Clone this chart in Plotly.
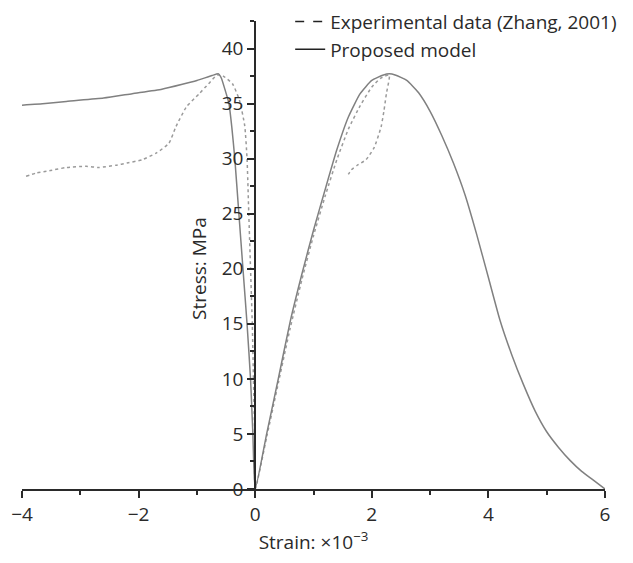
import plotly.graph_objects as go

# Proposed model: lateral branch (negative strain) then axial branch
model_strain = [-4.0, -3.6, -3.24, -2.6, -2.11, -1.6, -1.25, -1.0, -0.74, -0.63,
                -0.58, -0.52, -0.45, -0.4, -0.35, -0.28, -0.21, -0.14, -0.08, -0.04, 0.0,
                0.2, 0.4, 0.6, 0.8, 1.0, 1.2, 1.4, 1.6, 1.8, 2.0, 2.2, 2.3, 2.4,
                2.6, 2.8, 3.0, 3.2, 3.4, 3.6, 3.8, 4.0, 4.2, 4.4, 4.6, 4.8, 5.0,
                5.2, 5.4, 5.6, 5.8, 6.0]
model_stress = [34.85, 35.0, 35.2, 35.5, 35.9, 36.3, 36.75, 37.1, 37.55, 37.7,
                37.3, 36.3, 35.0, 32.8, 30.0, 25.0, 20.0, 15.0, 10.0, 5.0, 0.0,
                5.1, 10.1, 15.2, 19.5, 23.5, 27.2, 30.8, 33.8, 35.9, 37.1, 37.6, 37.7, 37.6,
                37.1, 36.0, 34.3, 32.1, 29.6, 26.7, 23.1, 19.2, 15.3, 12.2, 9.5, 7.1, 5.2,
                3.8, 2.6, 1.6, 0.8, 0.0]

# Experimental data (Zhang, 2001)
exp_strain = [-3.93, -3.75, -3.53, -3.24, -2.9, -2.68, -2.39, -2.2, -1.94, -1.7,
              -1.48, -1.36, -1.18, -0.96, -0.8, -0.65, -0.55, -0.39, -0.27, -0.18,
              -0.14, -0.11, -0.08, -0.05, -0.03, -0.01, 0.0,
              0.2, 0.4, 0.6, 0.8, 1.0, 1.2, 1.4, 1.6, 1.8, 2.0, 2.15, 2.3,
              2.25, 2.21, 2.16, 2.04, 1.9, 1.75, 1.65, 1.6, 1.56]
exp_stress = [28.4, 28.7, 28.9, 29.2, 29.3, 29.2, 29.4, 29.6, 29.9, 30.5,
              31.4, 32.9, 34.7, 35.9, 36.8, 37.6, 37.5, 36.8, 35.3, 33.0,
              30.0, 25.0, 20.0, 15.0, 10.0, 5.0, 0.0,
              4.8, 9.7, 14.6, 19.0, 23.0, 26.6, 29.9, 32.7, 34.8, 36.5, 37.3, 37.6,
              35.9, 34.4, 32.9, 31.0, 29.9, 29.4, 29.0, 28.6, 28.4]

x_ticks = [-4, -2, 0, 2, 4, 6]
y_ticks = [0, 5, 10, 15, 20, 25, 30, 35, 40]

FONT = "Open Sans"
AX = "#2a2a2a"
FS = 19

fig = go.Figure()
fig.add_trace(go.Scatter(x=exp_strain, y=exp_stress, mode="lines",
                         line=dict(color="#9a9a9a", width=1.5, dash="dot",
                                   shape="spline", smoothing=0.5),
                         showlegend=False, hoverinfo="skip"))
fig.add_trace(go.Scatter(x=model_strain, y=model_stress, mode="lines",
                         line=dict(color="#808080", width=1.5,
                                   shape="spline", smoothing=0.5),
                         showlegend=False, hoverinfo="skip"))
# legend entries
fig.add_trace(go.Scatter(x=[None], y=[None], mode="lines",
                         name="Experimental data (Zhang, 2001)",
                         line=dict(color="#222222", width=1.5, dash="dash")))
fig.add_trace(go.Scatter(x=[None], y=[None], mode="lines",
                         name="Proposed model",
                         line=dict(color="#222222", width=1.5)))

fig.update_layout(
    width=633, height=563,
    margin=dict(l=14, r=36, t=13, b=82, autoexpand=False),
    paper_bgcolor="white", plot_bgcolor="white",
    font=dict(family=FONT, size=FS, color=AX),
    showlegend=True,
    legend=dict(x=0.46, xanchor="left", y=1.039, yanchor="top",
                bgcolor="rgba(0,0,0,0)", font=dict(size=FS, family=FONT, color=AX),
                tracegroupgap=0, itemwidth=30),
    xaxis=dict(range=[-4, 6], tickvals=x_ticks, showgrid=False, zeroline=False,
               showline=True, linecolor=AX, linewidth=2, automargin=False,
               ticks="outside", ticklen=7, tickwidth=2, tickcolor=AX,
               minor=dict(dtick=1, ticks="outside", ticklen=4, tickwidth=2, tickcolor=AX),
               tickfont=dict(size=FS, family=FONT, color=AX),
               title=dict(text="Strain: ×10<sup>−3</sup>", standoff=6,
                          font=dict(size=FS, family=FONT, color=AX)),
               fixedrange=True),
    yaxis=dict(range=[0, 42.5], tickvals=y_ticks, showgrid=False, zeroline=False,
               anchor="free", position=0.4, automargin=False,
               showline=True, linecolor=AX, linewidth=2,
               ticks="outside", ticklen=7, tickwidth=2, tickcolor=AX,
               minor=dict(dtick=2.5, ticks="outside", ticklen=4, tickwidth=2, tickcolor=AX),
               tickfont=dict(size=FS, family=FONT, color=AX),
               fixedrange=True),
    annotations=[dict(text="Stress: MPa", x=-0.96, y=20, xref="x", yref="y",
                      textangle=-90, showarrow=False,
                      font=dict(size=FS, family=FONT, color=AX))],
)

fig.write_html("out.html")
